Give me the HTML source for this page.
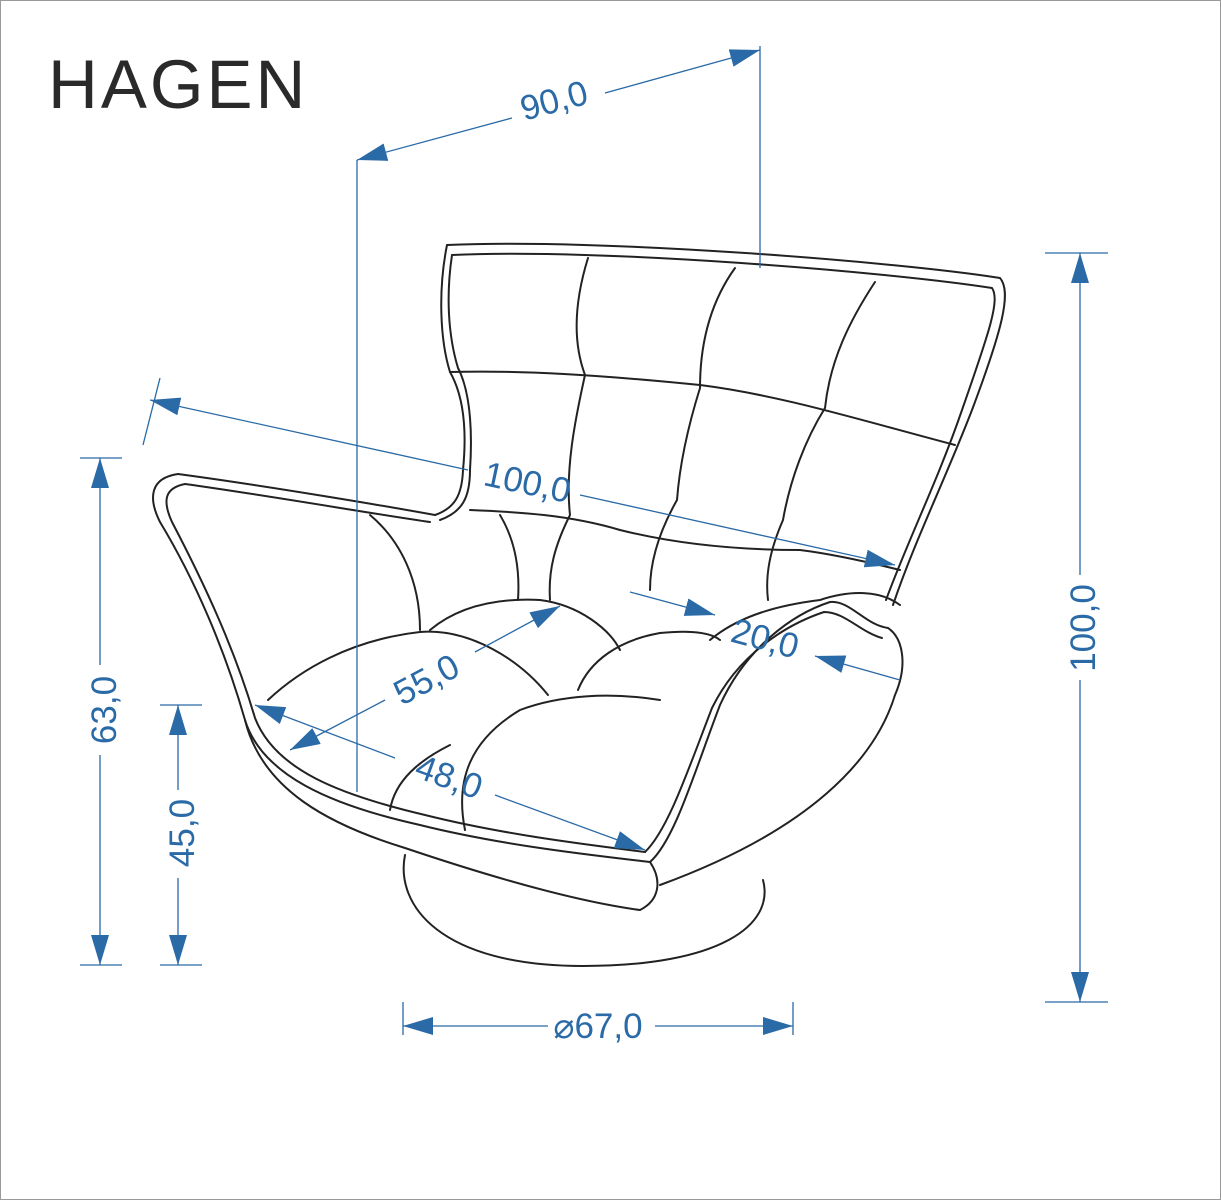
<!DOCTYPE html>
<html><head><meta charset="utf-8"><style>
html,body{margin:0;padding:0;background:#fff}
svg{display:block}
.t{font-family:"Liberation Sans",sans-serif;font-size:35px;fill:#2a6aa6}
</style></head><body>
<svg width="1221" height="1200" viewBox="0 0 1221 1200" xmlns="http://www.w3.org/2000/svg">
<rect x="0.5" y="0.5" width="1220" height="1199" fill="#fff" stroke="#999" stroke-width="1"/>
<text x="48" y="108" font-family="Liberation Sans,sans-serif" font-size="69" fill="#2a2a2a" letter-spacing="3">HAGEN</text>

<defs>
<marker id="a" viewBox="0 0 30 18" refX="30" refY="9" markerWidth="30" markerHeight="18" markerUnits="userSpaceOnUse" orient="auto-start-reverse"><path d="M0,0L30,9L0,18z" fill="#2a6aa6"/></marker>
</defs>

<g fill="none" stroke="#222" stroke-width="2" stroke-linejoin="round" stroke-linecap="round">
<path d="M405,855 C395,905 440,966 583,966 C720,966 775,925 763,880"/>
<path d="M447,245 C600,238 900,262 1000,278 C1012,292 1002,330 972,410 C945,480 915,540 893,605"/>
<path d="M452,255 C600,248 890,272 992,288 C1000,300 990,330 962,410 C938,480 908,540 886,600"/>
<path d="M447,245 C438,290 440,340 450,372 C466,400 466,440 463,470 C462,495 455,508 435,515"/>
<path d="M452,255 C446,295 448,335 458,368 C472,395 472,440 470,470 C470,498 462,512 440,520"/>
<path d="M450,372 C520,370 600,375 700,385 C780,395 860,420 955,445"/>
<path d="M588,258 C575,300 572,340 585,375 C575,420 565,470 570,515 C555,545 548,570 550,600"/>
<path d="M735,268 C712,300 700,340 700,388 C690,420 680,460 677,500 C660,530 650,560 650,590"/>
<path d="M875,282 C850,320 830,360 825,408 C805,440 790,480 783,520 C770,550 765,575 768,600"/>
<path d="M470,510 C520,512 570,515 620,530 C680,545 740,550 800,550 C840,555 880,565 900,570"/>
<path d="M435,515 C380,505 260,485 178,474 C150,478 148,498 160,522 C195,580 225,650 245,720 C262,775 330,805 420,825 C500,845 590,855 650,862"/>
<path d="M430,522 C380,515 265,495 185,484 C165,488 162,500 172,522 C205,585 235,650 255,718 C275,770 340,795 425,815 C505,835 590,845 645,852"/>
<path d="M370,515 C400,540 420,580 420,630"/>
<path d="M500,515 C515,540 520,570 518,600"/>
<path d="M268,700 C300,670 350,640 420,632 C470,628 520,660 548,695"/>
<path d="M430,630 C460,605 500,598 540,600 C580,605 610,630 620,650"/>
<path d="M578,690 C590,660 620,640 660,633 C690,630 710,632 720,640"/>
<path d="M465,830 C455,780 470,740 520,710 C560,695 610,692 660,700"/>
<path d="M390,810 C395,780 420,760 450,745"/>
<path d="M245,720 C262,790 330,825 405,848 C500,880 580,902 640,910 C660,900 662,880 650,862"/>
<path d="M650,862 C675,840 695,770 720,705 C745,650 790,615 830,602 C850,600 865,625 888,628 C903,638 908,665 895,695 C875,760 810,830 660,885"/>
<path d="M645,852 C668,830 688,770 712,708 C738,655 785,625 824,612 C845,612 860,632 882,638"/>
<path d="M710,640 C740,615 780,605 820,600 C850,590 880,590 900,605"/>
</g>

<g stroke="#2a6aa6" stroke-width="1.3" fill="none">
<line x1="357" y1="160" x2="357" y2="792"/>
<line x1="760" y1="46" x2="760" y2="268"/>
<line x1="1045" y1="253" x2="1108" y2="253"/>
<line x1="1045" y1="1002" x2="1108" y2="1002"/>
<line x1="80" y1="458" x2="122" y2="458"/>
<line x1="80" y1="965" x2="122" y2="965"/>
<line x1="160" y1="705" x2="202" y2="705"/>
<line x1="160" y1="965" x2="202" y2="965"/>
<line x1="403" y1="1002" x2="403" y2="1035"/>
<line x1="793" y1="1002" x2="793" y2="1035"/>
<line x1="143" y1="445" x2="160" y2="378"/>
<line x1="357" y1="160" x2="512" y2="118" marker-start="url(#a)"/>
<line x1="605" y1="93" x2="760" y2="50" marker-end="url(#a)"/>
<line x1="1080" y1="253" x2="1080" y2="575" marker-start="url(#a)"/>
<line x1="1080" y1="680" x2="1080" y2="1002" marker-end="url(#a)"/>
<line x1="100" y1="458" x2="100" y2="665" marker-start="url(#a)"/>
<line x1="100" y1="755" x2="100" y2="965" marker-end="url(#a)"/>
<line x1="178" y1="705" x2="178" y2="790" marker-start="url(#a)"/>
<line x1="178" y1="878" x2="178" y2="965" marker-end="url(#a)"/>
<line x1="403" y1="1026" x2="548" y2="1026" marker-start="url(#a)"/>
<line x1="655" y1="1026" x2="793" y2="1026" marker-end="url(#a)"/>
<line x1="150" y1="400" x2="468" y2="470" marker-start="url(#a)"/>
<line x1="580" y1="495" x2="895" y2="565" marker-end="url(#a)"/>
<line x1="290" y1="750" x2="385" y2="700" marker-start="url(#a)"/>
<line x1="475" y1="652" x2="560" y2="606" marker-end="url(#a)"/>
<line x1="255" y1="705" x2="395" y2="758" marker-start="url(#a)"/>
<line x1="495" y1="795" x2="645" y2="850" marker-end="url(#a)"/>
<line x1="630" y1="592" x2="715" y2="615" marker-end="url(#a)"/>
<line x1="900" y1="680" x2="815" y2="656" marker-end="url(#a)"/>
</g>
<g class="t">
<text class="t" transform="translate(557,112) rotate(-15)" text-anchor="middle">90,0</text>
<text class="t" transform="translate(1095,628) rotate(-90)" text-anchor="middle">100,0</text>
<text class="t" transform="translate(116,710) rotate(-90)" text-anchor="middle">63,0</text>
<text class="t" transform="translate(194,833) rotate(-90)" text-anchor="middle">45,0</text>
<text class="t" x="598" y="1038" text-anchor="middle">⌀67,0</text>
<text class="t" transform="translate(525,494) rotate(12)" text-anchor="middle">100,0</text>
<text class="t" transform="translate(432,690) rotate(-28)" text-anchor="middle">55,0</text>
<text class="t" transform="translate(445,788) rotate(20)" text-anchor="middle">48,0</text>
<text class="t" transform="translate(762,650) rotate(15)" text-anchor="middle">20,0</text>
</g>
</svg>
</body></html>
